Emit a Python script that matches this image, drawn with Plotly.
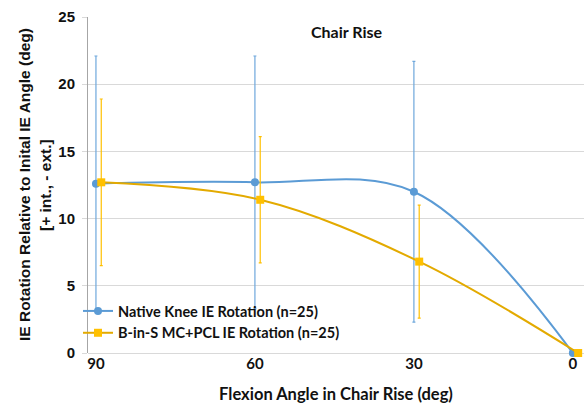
import plotly.graph_objects as go

# Flexion angle positions (deg); the implant series is nudged 1 deg so bars don't overlap
flexion_native = [90, 60, 30, 0]
flexion_bins = [89, 59, 29, -1]
tick_values = [90, 60, 30, 0]
tick_labels = ["90", "60", "30", "0"]

# Mean IE rotation relative to initial angle (deg) and standard deviation
native_mean = [12.6, 12.7, 12.0, 0.0]
native_sd = [9.5, 9.4, 9.7, 0.0]
bins_mean = [12.7, 11.4, 6.8, 0.0]
bins_sd = [6.2, 4.7, 4.2, 0.0]

native_name = "Native Knee IE Rotation (n=25)"
bins_name = "B-in-S MC+PCL IE Rotation (n=25)"

BLUE = "#5B9BD5"
BLUE_ERR = "#6FA8DC"
GOLD = "#FFC000"
GOLD_LINE = "#E3AA00"
TEXT = "#111111"

calibri_like = "Lato, 'Open Sans', sans-serif"
arial_like = "'Liberation Sans', Arial, sans-serif"

fig = go.Figure()
fig.add_trace(go.Scatter(
    x=flexion_native, y=native_mean, name=native_name,
    mode="lines+markers",
    line=dict(color=BLUE, width=2, shape="spline", smoothing=1.0),
    marker=dict(symbol="circle", size=8, color=BLUE),
    error_y=dict(type="data", array=native_sd, visible=True,
                 color=BLUE_ERR, thickness=1.2, width=1.5),
    cliponaxis=False,
))
fig.add_trace(go.Scatter(
    x=flexion_bins, y=bins_mean, name=bins_name,
    mode="lines+markers",
    line=dict(color=GOLD_LINE, width=2, shape="spline", smoothing=1.0),
    marker=dict(symbol="square", size=8, color=GOLD),
    error_y=dict(type="data", array=bins_sd, visible=True,
                 color=GOLD, thickness=1.2, width=1.5),
    cliponaxis=False,
))

L, R, T, B = 88, 0, 17, 51
W, H = 584, 404
PW, PH = W - L - R, H - T - B

fig.update_layout(
    width=W, height=H,
    margin=dict(l=L, r=R, t=T, b=B, pad=0),
    paper_bgcolor="white", plot_bgcolor="white",
    showlegend=True,
    legend=dict(
        x=(78 - L) / PW, y=(H - B - 349) / PH, xanchor="left", yanchor="bottom",
        bgcolor="rgba(0,0,0,0)",
        font=dict(family=calibri_like, size=14.5, color=TEXT, weight="bold"),
        tracegroupgap=6, itemwidth=30,
    ),
    xaxis=dict(
        range=[91.5, -2.1],
        tickmode="array", tickvals=tick_values, ticktext=tick_labels,
        showgrid=False, zeroline=False,
        showline=False, ticks="",
        tickfont=dict(family=calibri_like, size=15, color=TEXT, weight="bold"),
        title=dict(text="Flexion Angle in Chair Rise (deg)",
                   font=dict(family=calibri_like, size=16.5, color=TEXT, weight="bold"),
                   standoff=18),
    ),
    yaxis=dict(
        range=[0, 25], tickvals=[0, 5, 10, 15, 20, 25],
        showgrid=True, gridcolor="#D9D9D9", gridwidth=1,
        zeroline=True, zerolinecolor="#D9D9D9", zerolinewidth=1,
        showline=True, linecolor="#A6A6A6", linewidth=1,
        ticks="outside", ticklen=5, tickcolor="#D9D9D9",
        tickfont=dict(family=arial_like, size=15, color=TEXT, weight="bold"),
        ticklabelstandoff=4,
    ),
    annotations=[
        dict(text="Chair Rise", xref="paper", yref="paper",
             x=(347 - L) / PW, y=(H - B - 32) / PH,
             xanchor="center", yanchor="middle", showarrow=False,
             font=dict(family=calibri_like, size=16, color=TEXT, weight="bold")),
        dict(text="IE Rotation Relative to Inital IE Angle (deg)",
             xref="paper", yref="paper",
             x=(24 - L) / PW, y=0.5, textangle=-90,
             xanchor="center", yanchor="middle", showarrow=False,
             font=dict(family=arial_like, size=15.5, color=TEXT, weight="bold")),
        dict(text="[+ int., - ext.]",
             xref="paper", yref="paper",
             x=(45 - L) / PW, y=0.5, textangle=-90,
             xanchor="center", yanchor="middle", showarrow=False,
             font=dict(family=arial_like, size=15.5, color=TEXT, weight="bold")),
    ],
)

fig.write_html("out.html")
